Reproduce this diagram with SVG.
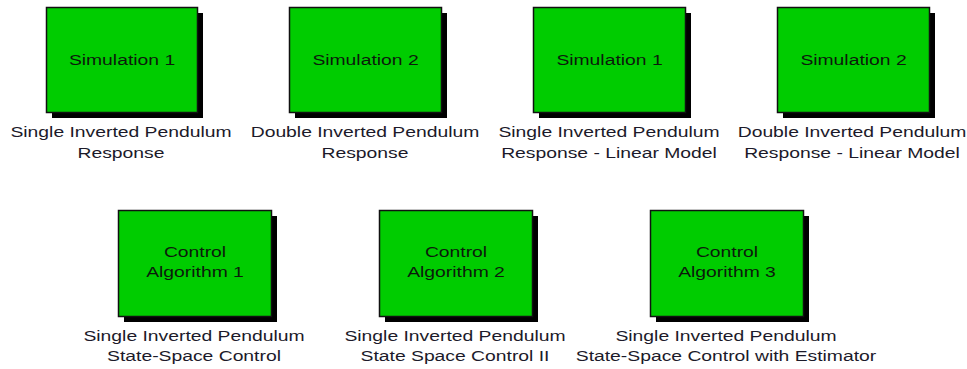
<svg xmlns="http://www.w3.org/2000/svg" width="967" height="369" viewBox="0 0 967 369">
<style>
.shadow{fill:#000}
.box{fill:#00cc00;stroke:#111;stroke-width:1.5}
.t{font-family:"Liberation Sans",Arial,sans-serif;font-size:14px;text-anchor:middle}
.in{fill:#0c1a0c}
.lbl{fill:#1c1a2a}
</style>
<rect width="967" height="369" fill="#fff"/>
<g id="sim1-single">
<rect class="shadow" x="52" y="13" width="151" height="105"/>
<rect class="box" x="46.5" y="7.5" width="151" height="105"/>
<text class="t in" transform="translate(122,65) scale(1.38,1)">Simulation 1</text>
<text class="t lbl" transform="translate(121,137) scale(1.38,1)"><tspan x="0" y="0">Single Inverted Pendulum</tspan><tspan x="0" y="21">Response</tspan></text>
</g>
<g id="sim2-double">
<rect class="shadow" x="295" y="13" width="152" height="105"/>
<rect class="box" x="289.5" y="7.5" width="152" height="105"/>
<text class="t in" transform="translate(365.5,65) scale(1.38,1)">Simulation 2</text>
<text class="t lbl" transform="translate(365,137) scale(1.38,1)"><tspan x="0" y="0">Double Inverted Pendulum</tspan><tspan x="0" y="21">Response</tspan></text>
</g>
<g id="sim1-single-linear">
<rect class="shadow" x="539" y="13" width="152" height="105"/>
<rect class="box" x="533.5" y="7.5" width="152" height="105"/>
<text class="t in" transform="translate(609.5,65) scale(1.38,1)">Simulation 1</text>
<text class="t lbl" transform="translate(609,137) scale(1.38,1)"><tspan x="0" y="0">Single Inverted Pendulum</tspan><tspan x="0" y="21">Response - Linear Model</tspan></text>
</g>
<g id="sim2-double-linear">
<rect class="shadow" x="783" y="13" width="152" height="105"/>
<rect class="box" x="777.5" y="7.5" width="152" height="105"/>
<text class="t in" transform="translate(853.5,65) scale(1.38,1)">Simulation 2</text>
<text class="t lbl" transform="translate(852,137) scale(1.38,1)"><tspan x="0" y="0">Double Inverted Pendulum</tspan><tspan x="0" y="21">Response - Linear Model</tspan></text>
</g>
<g id="control1">
<rect class="shadow" x="124" y="216" width="153" height="106"/>
<rect class="box" x="118.5" y="210.5" width="153" height="106"/>
<text class="t in" transform="translate(195,257) scale(1.38,1)"><tspan x="0" y="0">Control</tspan><tspan x="0" y="20">Algorithm 1</tspan></text>
<text class="t lbl" transform="translate(194,341) scale(1.38,1)"><tspan x="0" y="0">Single Inverted Pendulum</tspan><tspan x="0" y="20">State-Space Control</tspan></text>
</g>
<g id="control2">
<rect class="shadow" x="385" y="216" width="153" height="106"/>
<rect class="box" x="379.5" y="210.5" width="153" height="106"/>
<text class="t in" transform="translate(456,257) scale(1.38,1)"><tspan x="0" y="0">Control</tspan><tspan x="0" y="20">Algorithm 2</tspan></text>
<text class="t lbl" transform="translate(455,341) scale(1.38,1)"><tspan x="0" y="0">Single Inverted Pendulum</tspan><tspan x="0" y="20">State Space Control II</tspan></text>
</g>
<g id="control3">
<rect class="shadow" x="656" y="216" width="153" height="106"/>
<rect class="box" x="650.5" y="210.5" width="153" height="106"/>
<text class="t in" transform="translate(727,257) scale(1.38,1)"><tspan x="0" y="0">Control</tspan><tspan x="0" y="20">Algorithm 3</tspan></text>
<text class="t lbl" transform="translate(726,341) scale(1.38,1)"><tspan x="0" y="0">Single Inverted Pendulum</tspan><tspan x="0" y="20">State-Space Control with Estimator</tspan></text>
</g>
</svg>
